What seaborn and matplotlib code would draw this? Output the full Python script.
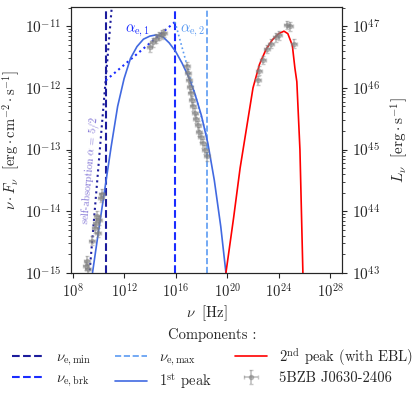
"""
SED of 5BZB J0630-2406 with synchrotron (1st peak) and
inverse-Compton (2nd peak) components.
"""

import numpy as np
import pandas as pd
import matplotlib
matplotlib.use("Agg")
import matplotlib.pyplot as plt
import matplotlib.ticker as mticker
import seaborn as sns

# ---- values (log10 nu [Hz], log10 nuFnu [erg/cm2/s]) ----
peak1_lognu = [9.55, 10.0, 10.5, 11.0, 11.5, 12.0, 12.5, 13.0, 13.5, 14.0, 14.5,
               15.0, 15.5, 16.0, 16.5, 17.0, 17.5, 18.0, 18.5, 19.0, 19.5, 19.9]
peak1_logf = [-15.0, -14.35, -13.65, -12.95, -12.3, -11.85, -11.52, -11.33, -11.21,
              -11.16, -11.14, -11.17, -11.27, -11.41, -11.6, -11.82, -12.1, -12.45,
              -12.9, -13.5, -14.25, -15.0]

peak2_lognu = [19.9, 20.5, 21.0, 21.5, 22.0, 22.5, 23.0, 23.5, 24.0, 24.4, 24.7,
               25.05, 25.25, 25.4, 25.64, 25.87]
peak2_logf = [-15.0, -14.1, -13.3, -12.65, -12.0, -11.62, -11.38, -11.22, -11.12,
              -11.08, -11.12, -11.31, -11.68, -11.9, -13.0, -15.0]

data_lognu = [9.05, 9.12, 9.2, 9.51, 9.74, 9.82, 9.9, 9.98, 10.05, 10.2, 10.29,
              14.0, 14.24, 14.47, 14.7, 14.94, 15.09,
              16.88, 16.95, 17.03, 17.11, 17.19, 17.26, 17.34, 17.5, 17.57, 17.73,
              17.81, 17.96, 18.12, 18.27, 18.43,
              22.38, 22.46, 22.77, 23.08, 23.39, 23.78, 24.01, 24.63, 24.86, 25.17]
data_logf = [-14.89, -14.8, -14.93, -14.48, -14.28, -14.19, -14.07, -14.35, -14.15,
             -13.78, -13.72,
             -11.34, -11.26, -11.2, -11.16, -11.13, -11.11,
             -11.65, -11.76, -11.88, -11.99, -12.09, -12.2, -12.3, -12.4, -12.5,
             -12.61, -12.71, -12.8, -12.9, -13.0, -13.11,
             -11.88, -11.72, -11.55, -11.37, -11.28, -11.18, -11.15, -10.98, -11.0,
             -11.28]

# characteristic frequencies (log10 Hz)
log_nu_min = 10.57
log_nu_brk = 15.95
log_nu_max = 18.43

# broken power-law sketch (log10 nu, log10 nuFnu)
selfabs_lognu = [9.3, 11.1]
selfabs_logf = [-15.05, -10.55]
alpha1_lognu = [10.57, 15.95]
alpha1_logf = [-11.88, -10.93]
alpha2_lognu = [15.95, 18.43]
alpha2_logf = [-10.93, -12.8]

x_ticks = [1e8, 1e12, 1e16, 1e20, 1e24, 1e28]
y_ticks = [1e-15, 1e-14, 1e-13, 1e-12, 1e-11]
lum_ticks = [1e43, 1e44, 1e45, 1e46, 1e47]

c_min = "#1c1c9c"
c_brk = "#1a2cff"
c_max = "#5b9bf2"
c_peak1 = "#4169e1"


def to_df(lognu, logf):
    return pd.DataFrame({"nu": 10.0 ** np.array(lognu),
                         "f": 10.0 ** np.array(logf)})


sns.set_style("ticks")
plt.rcParams["font.family"] = "serif"
plt.rcParams["font.serif"] = ["cmr10", "DejaVu Serif"]
plt.rcParams["mathtext.fontset"] = "cm"
plt.rcParams["axes.unicode_minus"] = False
plt.rcParams["axes.formatter.use_mathtext"] = True
plt.rcParams["font.size"] = 11

fig = plt.figure(figsize=(4.15, 3.96), dpi=100)
ax = fig.add_axes([0.171, 0.311, 0.653, 0.671])
ax.set_xscale("log")
ax.set_yscale("log")

ax.axvline(10 ** log_nu_min, color=c_min, ls="--", lw=1.5,
           label=r"$\nu_{\rm e,min}$")
ax.axvline(10 ** log_nu_brk, color=c_brk, ls="--", lw=1.5,
           label=r"$\nu_{\rm e,brk}$")
ax.axvline(10 ** log_nu_max, color=c_max, ls="--", lw=1.2,
           label=r"$\nu_{\rm e,max}$")

d = to_df(selfabs_lognu, selfabs_logf)
ax.plot(d.nu, d.f, color=c_min, ls=":", lw=1.5)
d = to_df(alpha1_lognu, alpha1_logf)
ax.plot(d.nu, d.f, color=c_brk, ls=":", lw=1.5)
d = to_df(alpha2_lognu, alpha2_logf)
ax.plot(d.nu, d.f, color=c_max, ls=":", lw=1.2)

sns.lineplot(data=to_df(peak1_lognu, peak1_logf), x="nu", y="f", sort=False,
             color=c_peak1, lw=1.2, ax=ax, label=r"$1^{\rm st}$ peak")
sns.lineplot(data=to_df(peak2_lognu, peak2_logf), x="nu", y="f", sort=False,
             color="red", lw=1.2, ax=ax, label=r"$2^{\rm nd}$ peak (with EBL)")

obs = to_df(data_lognu, data_logf)
ax.errorbar(obs.nu, obs.f, xerr=[obs.nu * 0.4, obs.nu * 0.6],
            yerr=[obs.f * 0.15, obs.f * 0.18], fmt="o", ms=3,
            color="grey", alpha=0.45, elinewidth=1.3, capsize=1.2,
            label="5BZB J0630-2406")

ax.text(10 ** 13.0, 10 ** -11.08, r"$\alpha_{\rm e,1}$", color=c_brk,
        fontsize=10.5, ha="center", va="center")
ax.text(10 ** 17.34, 10 ** -11.08, r"$\alpha_{\rm e,2}$", color=c_max,
        fontsize=10.5, ha="center", va="center")
ax.text(10 ** 9.36, 10 ** -13.33, r"self-absorption $\alpha$ = 5/2",
        color="slateblue", alpha=0.85, fontsize=7.5, rotation=85,
        ha="center", va="center")

ax.set_xticks(x_ticks)
ax.set_yticks(y_ticks)
ax.set_xlim(10 ** 7.88, 10 ** 28.9)
ax.set_ylim(1e-15, 10 ** -10.69)
ax.xaxis.set_minor_locator(mticker.NullLocator())
ax.yaxis.set_minor_formatter(mticker.NullFormatter())
ax.tick_params(axis="x", labelsize=10.5)
ax.set_xlabel(r"$\nu\ \ [\mathrm{Hz}]$", fontsize=10.5, labelpad=2)
ax.set_ylabel(r"$\nu \cdot F_{\nu}\ \ [\mathrm{erg \cdot cm^{-2} \cdot s^{-1}}]$",
              fontsize=10.5, labelpad=2)

ax2 = ax.twinx()
ax2.set_yscale("log")
ax2.set_yticks(lum_ticks)
ax2.set_ylim(1e-15 * 1e58, 10 ** -10.69 * 1e58)
ax2.yaxis.set_minor_formatter(mticker.NullFormatter())
ax2.set_ylabel(r"$L_{\nu}\ \ [\mathrm{erg \cdot s^{-1}}]$", labelpad=6)

handles, labels = ax.get_legend_handles_labels()
ax.get_legend().remove()
order = [labels.index(l) for l in
         [r"$\nu_{\rm e,min}$", r"$\nu_{\rm e,brk}$", r"$\nu_{\rm e,max}$",
          r"$1^{\rm st}$ peak", r"$2^{\rm nd}$ peak (with EBL)", "5BZB J0630-2406"]]
fig.legend([handles[i] for i in order], [labels[i] for i in order],
           loc="upper center", bbox_to_anchor=(0.512, 0.205), ncol=3,
           frameon=False, title="Components :", handlelength=2.2,
           columnspacing=1.6, labelspacing=0.25, fontsize=10.5,
           title_fontsize=10.5)

fig.savefig("out.png", dpi=100)
